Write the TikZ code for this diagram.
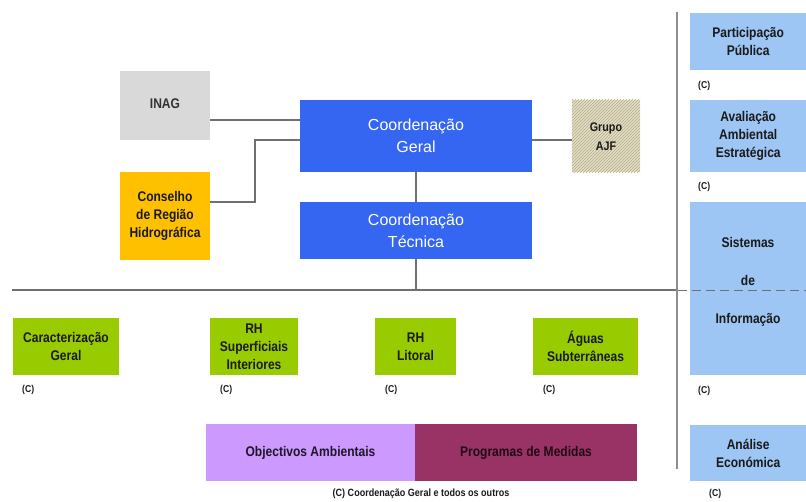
\documentclass[tikz,border=0pt]{standalone}
\usepackage{fontspec}
\setmainfont{Liberation Sans}
\newfontfamily\narrowbf[FakeStretch=0.86]{Liberation Sans Bold}
\usetikzlibrary{patterns}
\definecolor{cgblue}{HTML}{3566F2}
\definecolor{lblue}{HTML}{9DC6F5}
\definecolor{lgreen}{HTML}{99CC00}
\definecolor{cyellow}{HTML}{FFC000}
\definecolor{lgray}{HTML}{D9D9D9}
\definecolor{lilac}{HTML}{CC99FF}
\definecolor{plum}{HTML}{993366}
\definecolor{beige}{HTML}{E2DEC4}
\definecolor{hatch}{HTML}{B3AD8C}
\definecolor{txt}{HTML}{1A1A1A}
\definecolor{linec}{HTML}{707070}
\begin{document}
\begin{tikzpicture}[x=1pt,y=-1pt,
  box/.style={draw=none,inner sep=0pt,align=center,text=txt,font=\narrowbf\fontsize{14}{18}\selectfont},
  bluebox/.style={draw=none,inner sep=0pt,align=center,fill=cgblue,text=white,font=\fontsize{16}{22}\selectfont},
  cmark/.style={inner sep=0pt,anchor=west,text=txt,font=\narrowbf\fontsize{10}{11}\selectfont},
  conn/.style={draw=linec,line width=1.1pt}]
\useasboundingbox (0,0) rectangle (806,501);
% top-left group
\node[box,fill=lgray,minimum width=90pt,minimum height=69pt] (inag) at (165,105.5) {};
\node[box,text=black!80] (inagt) at (165,104) {INAG};
\node[box,fill=cyellow,minimum width=90pt,minimum height=88pt] (crh) at (165,216) {Conselho\\de Região\\Hidrográfica};
\node[bluebox,minimum width=232pt,minimum height=72pt] (cg) at (416,136) {Coordenação\\Geral};
\node[bluebox,minimum width=232pt,minimum height=57pt] (ct) at (416,230.5) {Coordenação\\Técnica};
\node[box,fill=beige,minimum width=68pt,minimum height=72pt] (ajf) at (606,136) {};
\fill[pattern=north east lines,pattern color=hatch] (ajf.south west) rectangle (ajf.north east);
\node[box,font=\narrowbf\fontsize{12.5}{19}\selectfont] (ajft) at (606,137) {Grupo\\AJF};
% connectors
\draw[conn] (inag.east |- 0,120) -- (cg.west |- 0,120);
\coordinate (k1) at (255,202);
\coordinate (k2) at (255,140);
\draw[conn] (crh.east |- k1) -- (k1) -- (k2) -- (cg.west |- k2);
\draw[conn] (cg.east |- 0,140) -- (ajf.west |- 0,140);
\draw[conn] (cg.south) -- (ct.north);
\coordinate (hl) at (416,290);
\draw[conn] (ct.south) -- (hl);
\coordinate (hleft) at (12,290);
\coordinate (hmid) at (678,290);
\coordinate (hright) at (806,290);
% right column
\coordinate (vtop) at (677,12);
\coordinate (vbot) at (677,469);
\node[box,fill=lblue,minimum width=116pt,minimum height=57pt,anchor=north west] (pp) at (690,13) {Participação\\Pública};
\node[box,fill=lblue,minimum width=116pt,minimum height=72pt,anchor=north west] (aae) at (690,100) {Avaliação\\Ambiental\\Estratégica};
\node[box,fill=lblue,minimum width=116pt,minimum height=173pt,anchor=north west] (si) at (690,202) {};
\node[box,font=\narrowbf\fontsize{14}{38}\selectfont] (sit) at (748,282) {Sistemas\\de\\Informação};
\node[box,fill=lblue,minimum width=116pt,minimum height=56pt,anchor=north west] (ae) at (690,425) {Análise\\Económica};
\draw[conn] (hleft) -- (hmid);
\draw[conn,line width=1pt,dash pattern=on 9pt off 5pt] (hmid) -- (hright);
\draw[draw=linec!80,line width=1.6pt] (vtop) -- (vbot);
\node[cmark] (c1) at (698,86) {(C)};
\node[cmark] (c2) at (698,187) {(C)};
\node[cmark] (c3) at (698,391) {(C)};
\node[cmark] (c4) at (709,494) {(C)};
% green row
\node[box,fill=lgreen,minimum width=106pt,minimum height=57pt] (cgeral) at (66,346.5) {Caracterização\\Geral};
\node[box,fill=lgreen,minimum width=88pt,minimum height=57pt] (rhs) at (254,346.5) {RH\\Superficiais\\Interiores};
\node[box,fill=lgreen,minimum width=81pt,minimum height=57pt] (rhl) at (415.5,346.5) {RH\\Litoral};
\node[box,fill=lgreen,minimum width=105pt,minimum height=57pt] (as) at (585.5,346.5) {Águas\\Subterrâneas};
\node[cmark] (c5) at (22,390) {(C)};
\node[cmark] (c6) at (220,390) {(C)};
\node[cmark] (c7) at (385,390) {(C)};
\node[cmark] (c8) at (543,390) {(C)};
% bottom
\node[box,fill=lilac,minimum width=209pt,minimum height=57pt,text=black!85!lilac] (oa) at (310.5,452.5) {Objectivos Ambientais};
\node[box,fill=plum,minimum width=222pt,minimum height=57pt,text=black!80!plum] (pm) at (526,452.5) {Programas de Medidas};
\node[cmark,anchor=center,font=\narrowbf\fontsize{10.5}{11}\selectfont] (leg) at (421,494) {(C) Coordenação Geral e todos os outros};
\end{tikzpicture}
\end{document}
